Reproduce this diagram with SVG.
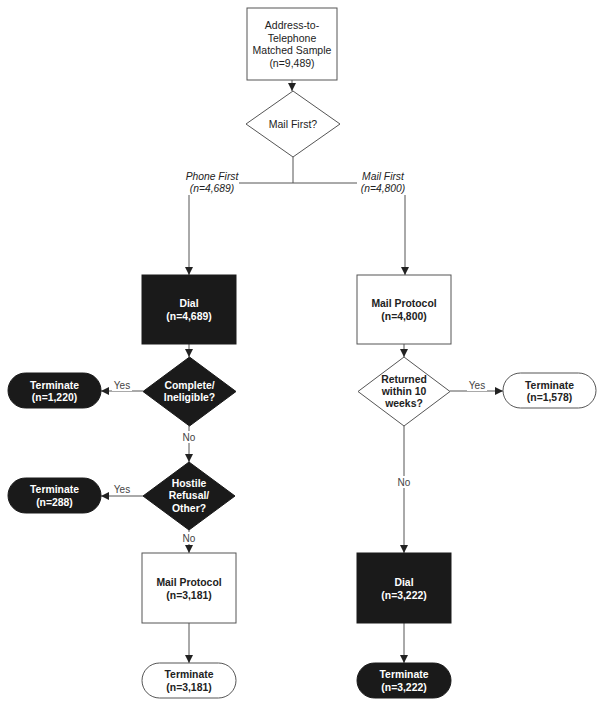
<svg xmlns="http://www.w3.org/2000/svg" width="605" height="707" viewBox="0 0 605 707">
<defs>
<style>
.wbox{fill:#fff;stroke:#555;stroke-width:1}
.bbox{fill:#1a1a1a;stroke:#1a1a1a;stroke-width:1}
.t{font-family:"Liberation Sans",Arial,sans-serif;font-size:10.5px;text-anchor:middle;fill:#222}
.tb{font-family:"Liberation Sans",Arial,sans-serif;font-size:10.4px;font-weight:bold;text-anchor:middle;fill:#222}
.tw{font-family:"Liberation Sans",Arial,sans-serif;font-size:10.4px;font-weight:bold;text-anchor:middle;fill:#fff}
.ti{font-family:"Liberation Sans",Arial,sans-serif;font-size:10.3px;font-style:italic;text-anchor:middle;fill:#222}
.lbl{font-family:"Liberation Sans",Arial,sans-serif;font-size:10px;text-anchor:middle;fill:#444}
.c{fill:none;stroke:#555;stroke-width:1}
.ca{fill:none;stroke:#555;stroke-width:1;marker-end:url(#ah)}
.bg{fill:#fff}
</style>
<marker id="ah" markerUnits="userSpaceOnUse" markerWidth="8" markerHeight="8" viewBox="0 0 8 8" refX="8" refY="4" orient="auto">
<path d="M0,0 L8,4 L0,8 Z" fill="#222"/>
</marker>
</defs>

<g id="connectors">
<path class="ca" d="M292,80 V91"/>
<path class="c" d="M293,157 V183 H405"/>
<path class="c" d="M293,183 H189"/>
<path class="ca" d="M189,183 V275"/>
<path class="ca" d="M405,183 V275"/>
<path class="ca" d="M189,344 V357"/>
<path class="ca" d="M143,391 H101"/>
<path class="ca" d="M189,426 V462"/>
<path class="ca" d="M143,496 H101"/>
<path class="ca" d="M189,530 V553"/>
<path class="ca" d="M189,623 V663"/>
<path class="ca" d="M404,344 V357"/>
<path class="ca" d="M450,391 H503"/>
<path class="ca" d="M404,426 V553"/>
<path class="ca" d="M404,623 V663"/>
<g id="connector-labels">
<rect class="bg" x="184" y="168" width="55" height="27"/>
<text class="ti" x="212" y="180">Phone First</text>
<text class="ti" x="212" y="192">(n=4,689)</text>
<rect class="bg" x="357" y="168" width="51" height="27"/>
<text class="ti" x="383" y="180">Mail First</text>
<text class="ti" x="383" y="192">(n=4,800)</text>
<rect class="bg" x="112" y="379" width="20" height="12"/>
<text class="lbl" x="122" y="389">Yes</text>
<rect class="bg" x="180" y="431" width="18" height="12"/>
<text class="lbl" x="189" y="441">No</text>
<rect class="bg" x="112" y="483" width="20" height="12"/>
<text class="lbl" x="122" y="493">Yes</text>
<rect class="bg" x="180" y="532" width="18" height="12"/>
<text class="lbl" x="189" y="542">No</text>
<rect class="bg" x="467" y="379" width="20" height="12"/>
<text class="lbl" x="477" y="389">Yes</text>
<rect class="bg" x="395" y="476" width="18" height="12"/>
<text class="lbl" x="404" y="486">No</text>
</g>
</g>

<g id="sample">
<rect class="wbox" x="247" y="8" width="90" height="72"/>
<text class="t" x="292" y="29">Address-to-</text>
<text class="t" x="292" y="41.5">Telephone</text>
<text class="t" x="292" y="54">Matched Sample</text>
<text class="t" x="292" y="66.5">(n=9,489)</text>
</g>

<g id="mail-first-decision">
<polygon class="wbox" points="293,91 340,124 293,157 246,124"/>
<text class="t" x="293" y="128">Mail First?</text>
</g>

<g id="dial-left">
<rect class="bbox" x="142" y="275" width="94" height="69"/>
<text class="tw" x="189" y="307">Dial</text>
<text class="tw" x="189" y="319.5">(n=4,689)</text>
</g>

<g id="complete-decision">
<polygon class="bbox" points="189.5,357 236,391.5 189.5,426 143,391.5"/>
<text class="tw" x="189.5" y="389">Complete/</text>
<text class="tw" x="189.5" y="401">Ineligible?</text>
</g>

<g id="terminate-1220">
<rect class="bbox" x="8" y="373" width="93" height="35" rx="17.5"/>
<text class="tw" x="54.5" y="389">Terminate</text>
<text class="tw" x="54.5" y="401">(n=1,220)</text>
</g>

<g id="hostile-decision">
<polygon class="bbox" points="189,462 235,496 189,530 143,496"/>
<text class="tw" x="189" y="486.5">Hostile</text>
<text class="tw" x="189" y="499">Refusal/</text>
<text class="tw" x="189" y="511.5">Other?</text>
</g>

<g id="terminate-288">
<rect class="bbox" x="8" y="478" width="93" height="35" rx="17.5"/>
<text class="tw" x="54.5" y="493">Terminate</text>
<text class="tw" x="54.5" y="505.5">(n=288)</text>
</g>

<g id="mail-protocol-left">
<rect class="wbox" x="142" y="553" width="94" height="70"/>
<text class="tb" x="189" y="585.5">Mail Protocol</text>
<text class="tb" x="189" y="598.5">(n=3,181)</text>
</g>

<g id="terminate-3181">
<rect class="wbox" x="142" y="663" width="94" height="35" rx="17.5"/>
<text class="tb" x="189" y="678">Terminate</text>
<text class="tb" x="189" y="691">(n=3,181)</text>
</g>

<g id="mail-protocol-right">
<rect class="wbox" x="357" y="275" width="94" height="69"/>
<text class="tb" x="404" y="307">Mail Protocol</text>
<text class="tb" x="404" y="319.5">(n=4,800)</text>
</g>

<g id="returned-decision">
<polygon class="wbox" points="404,357 450,391.5 404,426 358,391.5"/>
<text class="tb" x="404" y="382.5">Returned</text>
<text class="tb" x="404" y="394.5">within 10</text>
<text class="tb" x="404" y="406.5">weeks?</text>
</g>

<g id="terminate-1578">
<rect class="wbox" x="503" y="373" width="93" height="35" rx="17.5"/>
<text class="tb" x="549.5" y="389">Terminate</text>
<text class="tb" x="549.5" y="401">(n=1,578)</text>
</g>

<g id="dial-right">
<rect class="bbox" x="357" y="553" width="94" height="70"/>
<text class="tw" x="404" y="585.5">Dial</text>
<text class="tw" x="404" y="598.5">(n=3,222)</text>
</g>

<g id="terminate-3222">
<rect class="bbox" x="357" y="663" width="94" height="35" rx="17.5"/>
<text class="tw" x="404" y="678">Terminate</text>
<text class="tw" x="404" y="691">(n=3,222)</text>
</g>
</svg>
